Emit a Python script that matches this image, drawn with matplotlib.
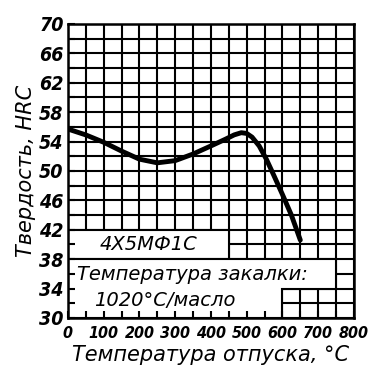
import numpy as np
import matplotlib
matplotlib.use("Agg")
import matplotlib.pyplot as plt
from matplotlib.patches import Polygon

# Data
temp = [0, 50, 100, 150, 200, 250, 300, 350, 400, 440, 465, 485, 500, 515, 535, 555, 575, 600, 625, 650]
hrc = [55.7, 54.9, 53.9, 52.7, 51.6, 51.1, 51.4, 52.3, 53.4, 54.3, 54.9, 55.2, 55.1, 54.6, 53.4, 51.6, 49.5, 46.8, 44.0, 40.6]

x_ticks = [0, 100, 200, 300, 400, 500, 600, 700, 800]
y_ticks = [30, 34, 38, 42, 46, 50, 54, 58, 62, 66, 70]

steel = "4X5MФ1C"
note1 = "Температура закалки:"
note2 = "1020°C/масло"
xlabel = "Температура отпуска, °C"
ylabel = "Твердость, HRC"

font = dict(family="DejaVu Sans", style="oblique", weight="bold", stretch="condensed")
tfont = dict(family="DejaVu Sans", style="oblique")

fig = plt.figure(figsize=(3.71, 3.79), dpi=100)
ax = fig.add_axes([0.183, 0.161, 0.771, 0.776])
ax.set_xlim(0, 800)
ax.set_ylim(30, 70)

# grid
for gx in np.arange(0, 801, 50):
    ax.plot([gx, gx], [30, 70], color="black", lw=1.5, zorder=1)
for gy in np.arange(30, 71, 2):
    ax.plot([0, 800], [gy, gy], color="black", lw=1.5, zorder=1)

# white label boxes
box1 = Polygon([[0, 38], [450, 38], [450, 42], [0, 42]], closed=True,
               facecolor="white", edgecolor="black", lw=1.5, zorder=2)
box2 = Polygon([[0, 30], [600, 30], [600, 34], [750, 34], [750, 38], [0, 38]], closed=True,
               facecolor="white", edgecolor="black", lw=1.5, zorder=2)
ax.add_patch(box1)
ax.add_patch(box2)

ax.plot(temp, hrc, color="black", lw=3.5, solid_capstyle="round", solid_joinstyle="round", zorder=4)

ax.text(225, 40, steel, ha="center", va="center", fontsize=14, zorder=5, **tfont)
ax.text(25, 35.9, note1, ha="left", va="center", fontsize=14, zorder=5, **tfont)
ax.text(72, 32.4, note2, ha="left", va="center", fontsize=14, zorder=5, **tfont)

ax.set_axisbelow(False)
ax.set_xticks(x_ticks)
ax.set_yticks(y_ticks)
ax.set_xticks(np.arange(0, 801, 50), minor=True)
ax.set_yticks(np.arange(30, 71, 2), minor=True)
ax.set_xticklabels([str(v) for v in x_ticks], fontsize=11.5, **font)
ax.set_yticklabels([str(v) for v in y_ticks], fontsize=14, **font)
ax.tick_params(which="both", direction="in", length=5, width=1.5, color="black")
ax.tick_params(axis="x", pad=6)
ax.tick_params(axis="y", pad=3)
for s in ax.spines.values():
    s.set_linewidth(1.8)
    s.set_zorder(6)

ax.set_xlabel(xlabel, fontsize=15, labelpad=3, **tfont)
ax.set_ylabel(ylabel, fontsize=15, labelpad=2, **tfont)

fig.savefig("out.png", dpi=100)
